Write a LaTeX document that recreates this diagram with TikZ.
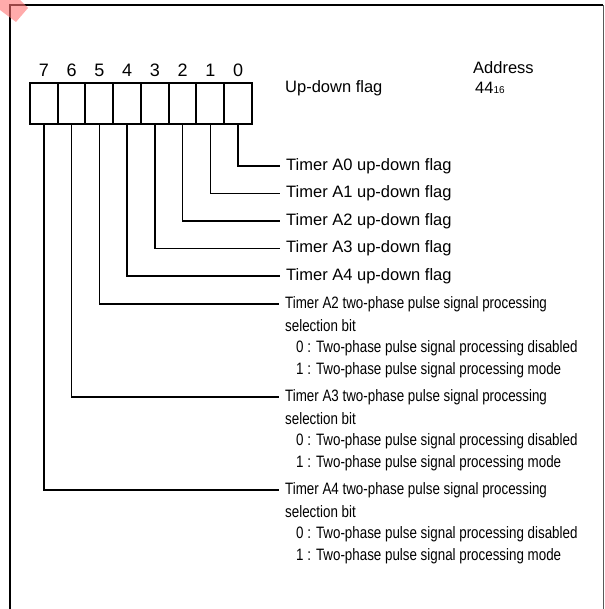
\documentclass[tikz,border=0pt]{standalone}
\usepackage{fontspec}
\setmainfont{Liberation Sans}
\newfontfamily\narrowfont[FakeStretch=0.81]{Liberation Sans}
\usepackage{tikz}
\usetikzlibrary{positioning}

\begin{document}
\begin{tikzpicture}[x=1pt, y=-1pt,
    cell/.style={draw, line width=2pt, minimum width=27.75pt, minimum height=41pt, inner sep=0pt},
    lbl/.style={anchor=west, inner sep=0pt, font=\fontsize{16.5}{20}\selectfont},
    sublbl/.style={anchor=west, inner sep=0pt, font=\narrowfont\fontsize{16.5}{20}\selectfont},
    wire/.style={line width=1.4pt}]

    \useasboundingbox (0,0) rectangle (604,609);

    % frame
    \draw[line width=2.6pt] (10,609) -- (10,5) -- (603,5);
    \draw[gray!70!black, line width=1pt] (603,5) -- (603,609);
    \fill[red!55, opacity=0.6] (0,0) -- (20,0) -- (28,8) -- (16,22) -- (0,10) -- cycle;

    % register
    \foreach \i in {0,...,7} {
        \node[cell] (b\i) at ({238.1-27.75*\i}, 103.5) {};
        \node[font=\fontsize{18}{20}\selectfont] (n\i) at ({238.1-27.75*\i}, 70) {\i};
    }

    \node[lbl] (ud) at (285,88) {Up-down flag};
    \node[lbl] (addr) at (473,68) {Address};
    \node[lbl] (val) at (475,88) {44{\fontsize{10}{12}\selectfont 16}};

    % up-down flags
    \foreach \i/\y in {0/166,1/193.5,2/221,3/248.5,4/276} {
        \node[lbl] (t\i) at (286,\y) {Timer A\i\ up-down flag};
        \draw[wire] (b\i.south) |- ([xshift=-6pt]t\i.west);
    }

    % two-phase selection bits
    \foreach \i/\t/\y in {5/2/303,6/3/396,7/4/489} {
        \node[sublbl] (t\i) at (285,\y+1) {Timer A\t\ two-phase pulse signal processing};
        \node[sublbl] (s\i) at (285,\y+23) {selection bit};
        \node[sublbl] (d\i) at (296,\y+45) {0 : Two-phase pulse signal processing disabled};
        \node[sublbl] (m\i) at (296,\y+67) {1 : Two-phase pulse signal processing mode};
        \draw[wire] (b\i.south) |- ([xshift=-6pt]t\i.west);
    }

\end{tikzpicture}
\end{document}
